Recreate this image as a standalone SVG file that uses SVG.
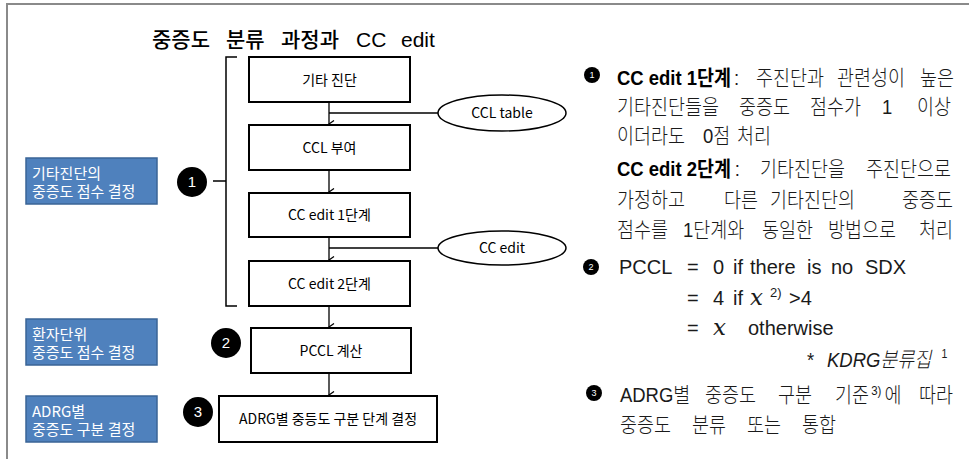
<svg xmlns="http://www.w3.org/2000/svg" width="969" height="459" viewBox="0 0 969 459">
<style>
.frame{fill:none;stroke:#8a8a8a;stroke-width:2}
.box{fill:#fff;stroke:#000;stroke-width:2}
.blue{fill:#4F81BD;stroke:#3A6496;stroke-width:1.5}
.ell{fill:#fff;stroke:#000;stroke-width:1.5}
.ln{fill:none;stroke:#000;stroke-width:1.3}
.br{fill:none;stroke:#000;stroke-width:1.5}
.t{font-family:"Noto Sans CJK KR","Noto Sans",sans-serif;font-size:14px;fill:#000;text-anchor:middle}
.wt{font-family:"Noto Sans CJK KR","Noto Sans",sans-serif;font-size:15px;fill:#fff}
.num{font-family:"Liberation Sans",sans-serif;font-size:15px;fill:#fff;text-anchor:middle}
.ttl{font-family:"Liberation Sans","Noto Sans CJK KR",sans-serif;font-size:21px;font-weight:500;fill:#000}
.r{font-family:"Liberation Sans","Noto Sans CJK KR",sans-serif;font-size:21px;font-weight:300;fill:#1a1a1a}
.m{font-size:20px}
.b{font-weight:700;fill:#000}
.xi{font-family:"DejaVu Serif",serif;font-style:italic;font-size:23px}
.sup{font-size:13px}
.sn{font-family:"Liberation Sans",sans-serif;font-size:9px;fill:#fff;text-anchor:middle}
</style>
<defs>
<marker id="ah" markerWidth="8" markerHeight="8" refX="4" refY="7" orient="auto" markerUnits="userSpaceOnUse" viewBox="0 0 8 8">
<path d="M0.5,2 L4,7 L7.5,2" fill="none" stroke="#000" stroke-width="1.3"/>
</marker>
</defs>
<path class="frame" d="M7,459 L7,4 L969,4"/>
<text class="ttl" y="47"><tspan x="152">중증도</tspan><tspan x="226">분류</tspan><tspan x="281">과정과</tspan><tspan x="356">CC</tspan><tspan x="401">edit</tspan></text>

<g id="connectors">
<path class="br" d="M237,57 L226,57 L226,306 L237,306 M213,181 L226,181"/>
<line class="ln" x1="329" y1="102" x2="329" y2="124" marker-end="url(#ah)"/>
<line class="ln" x1="329" y1="170" x2="329" y2="192" marker-end="url(#ah)"/>
<line class="ln" x1="329" y1="237" x2="329" y2="260" marker-end="url(#ah)"/>
<line class="ln" x1="329" y1="306" x2="329" y2="327" marker-end="url(#ah)"/>
<line class="ln" x1="329" y1="373" x2="329" y2="395" marker-end="url(#ah)"/>
<line class="ln" x1="329" y1="113" x2="438" y2="113"/>
<line class="ln" x1="329" y1="248" x2="438" y2="248"/>
</g>

<g id="n1"><rect class="box" x="249" y="57" width="161" height="45"/><text class="t" x="329.5" y="85">기타 진단</text></g>
<g id="n2"><rect class="box" x="249" y="125" width="161" height="45"/><text class="t" x="329.5" y="153">CCL 부여</text></g>
<g id="n3"><rect class="box" x="249" y="193" width="161" height="44"/><text class="t" x="329.5" y="220">CC edit 1단계</text></g>
<g id="n4"><rect class="box" x="249" y="261" width="161" height="45"/><text class="t" x="329.5" y="289">CC edit 2단계</text></g>
<g id="n5"><rect class="box" x="251" y="328" width="160" height="45"/><text class="t" x="331" y="356">PCCL 계산</text></g>
<g id="n6"><rect class="box" x="219" y="396" width="218" height="46"/><text class="t" x="328" y="424">ADRG별 중등도 구분 단계 결정</text></g>

<g id="e1"><ellipse class="ell" cx="502" cy="113" rx="64" ry="18"/><text class="t" x="502" y="118" font-size="13">CCL table</text></g>
<g id="e2"><ellipse class="ell" cx="502" cy="248" rx="64" ry="17"/><text class="t" x="502" y="253" font-size="13">CC edit</text></g>

<g id="c1"><circle cx="192" cy="182" r="15" fill="#000"/><text class="num" x="192" y="187">1</text></g>
<g id="c2"><circle cx="226" cy="343" r="15" fill="#000"/><text class="num" x="226" y="348">2</text></g>
<g id="c3"><circle cx="198" cy="412" r="15" fill="#000"/><text class="num" x="198" y="417">3</text></g>

<g id="b1"><rect class="blue" x="26" y="158" width="131" height="46"/><text class="wt" y="179"><tspan x="32">기타진단의</tspan><tspan x="32" dy="18">중증도 점수 결정</tspan></text></g>
<g id="b2"><rect class="blue" x="26" y="319" width="131" height="46"/><text class="wt" y="340"><tspan x="32">환자단위</tspan><tspan x="32" dy="18">중증도 점수 결정</tspan></text></g>
<g id="b3"><rect class="blue" x="26" y="396" width="131" height="46"/><text class="wt" y="417"><tspan x="32">ADRG별</tspan><tspan x="32" dy="18">중증도 구분 결정</tspan></text></g>

<g id="notes">
<circle cx="592" cy="75" r="8" fill="#000"/><text class="sn" x="592" y="78">1</text>
<circle cx="591" cy="267" r="8" fill="#000"/><text class="sn" x="591" y="270">2</text>
<circle cx="594" cy="393" r="8" fill="#000"/><text class="sn" x="594" y="396">3</text>
<g transform="scale(0.88,1)">
<text class="r" y="85"><tspan x="701.1" class="b">CC edit 1단계</tspan><tspan x="834">:</tspan><tspan x="859.1">주진단과</tspan><tspan x="951.1">관련성이</tspan><tspan x="1045.5">높은</tspan></text>
<text class="r" y="114"><tspan x="701.1">기타진단들을</tspan><tspan x="839.8">중증도</tspan><tspan x="920.5">점수가</tspan><tspan x="1002.3">1</tspan><tspan x="1042">이상</tspan></text>
<text class="r" y="143"><tspan x="701.1">이더라도</tspan><tspan x="798.9">0점</tspan><tspan x="837.5">처리</tspan></text>
<text class="r" y="176"><tspan x="701.1" class="b">CC edit 2단계</tspan><tspan x="835">:</tspan><tspan x="863.6">기타진단을</tspan><tspan x="984.1">주진단으로</tspan></text>
<text class="r" y="207"><tspan x="701.1">가정하고</tspan><tspan x="822.7">다른</tspan><tspan x="875">기타진단의</tspan><tspan x="1025">중증도</tspan></text>
<text class="r" y="237"><tspan x="701.1">점수를</tspan><tspan x="776.1">1단계와</tspan><tspan x="865.9">동일한</tspan><tspan x="940.9">방법으로</tspan><tspan x="1044.3">처리</tspan></text>
<text class="r" y="367"><tspan x="917">*</tspan><tspan x="939.8" font-style="italic">KDRG분류집</tspan><tspan x="1070" font-size="12" dy="-9">1</tspan></text>
<text class="r" y="402"><tspan x="704.5">ADRG별</tspan><tspan x="801.1">중증도</tspan><tspan x="884.1">구분</tspan><tspan x="948.9">기준</tspan><tspan x="990" class="sup" dy="-7">3)</tspan><tspan x="1005" dy="7">에</tspan><tspan x="1044.3">따라</tspan></text>
<text class="r" y="432"><tspan x="704.5">중증도</tspan><tspan x="786.4">분류</tspan><tspan x="848.9">또는</tspan><tspan x="911.4">통합</tspan></text>
</g>
<text class="r m" y="274"><tspan x="619">PCCL</tspan><tspan x="687">=</tspan><tspan x="713">0</tspan><tspan x="733">if</tspan><tspan x="750">there</tspan><tspan x="807">is</tspan><tspan x="831">no</tspan><tspan x="865">SDX</tspan></text>
<text class="r m" y="305"><tspan x="687">=</tspan><tspan x="713">4</tspan><tspan x="733">if</tspan><tspan x="750" class="xi">x</tspan><tspan x="770" class="sup" dy="-8">2)</tspan><tspan x="789" dy="8">&gt;4</tspan></text>
<text class="r m" y="335"><tspan x="687">=</tspan><tspan x="713" class="xi">x</tspan><tspan x="748">otherwise</tspan></text>
</g>
</svg>
